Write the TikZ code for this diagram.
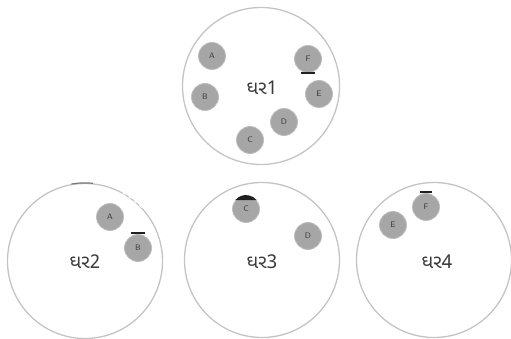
\documentclass[tikz,border=0pt]{standalone}
\usepackage{fontspec}
\setmainfont{DejaVu Sans}
\newfontfamily\gujfont[Script=Gujarati]{Noto Sans Gujarati UI}
\definecolor{ringgray}{HTML}{C4C4C4}
\definecolor{dotgray}{HTML}{A6A6A6}
\definecolor{dotedge}{HTML}{BDBDBD}
\definecolor{txtgray}{HTML}{3A3A3A}
\definecolor{capdark}{HTML}{202020}
\begin{document}
\begin{tikzpicture}[x=1pt,y=-1pt,
  house/.style={circle,draw=ringgray,line width=1.3pt,fill=white,minimum size=#1,inner sep=0pt},
  member/.style={circle,fill=dotgray,draw=dotedge,line width=0.8pt,minimum size=27pt,inner sep=0pt,
     font=\fontsize{8}{9}\selectfont\sffamily,text=txtgray},
  hlabel/.style={font=\gujfont\fontsize{19}{21}\selectfont,text=txtgray},
  capmark/.style={draw=capdark,line width=1.6pt}]
\useasboundingbox (0,0) rectangle (511,339);
\node[house=157pt] (h1) at (261,86) {};
\node[house=155pt] (h2) at (85,261) {};
\node[house=155pt] (h3) at (262,260) {};
\node[house=155pt] (h4) at (434,260) {};
\node[hlabel] (l1) at (262,88) {ઘર1};
\node[hlabel] (l2) at (85,262) {ઘર2};
\node[hlabel] (l3) at (262,262) {ઘર3};
\node[hlabel] (l4) at (437,262) {ઘર4};
\node[member] (a1) at (212,56) {A};
\node[member] (b1) at (205,97) {B};
\node[member] (f1) at (308,59) {F};
\node[member] (e1) at (319,94) {E};
\node[member] (d1) at (284,122) {D};
\node[member] (c1) at (250,140) {C};
\node[member] (a2) at (110,217) {A};
\node[member] (b2) at (138,248) {B};
\node[member] (c3) at (246,209) {C};
\node[member] (d3) at (308,236) {D};
\node[member] (f4) at (426,207) {F};
\node[member] (e4) at (393,225) {E};
% dark marks
\draw[capmark] ([xshift=-7pt]f1.south) -- ([xshift=7pt]f1.south);
\draw[capmark] ([xshift=-7pt,yshift=1pt]b2.north) -- ([xshift=7pt,yshift=1pt]b2.north);
\draw[capmark] ([xshift=-6pt,yshift=1pt]f4.north) -- ([xshift=6pt,yshift=1pt]f4.north);
\fill[capdark] (c3.140) arc[start angle=140,end angle=40,radius=13.9pt] -- cycle;
\draw[draw=capdark!60,line width=1.2pt] (h2.100) arc[start angle=100,end angle=84,radius=77.5pt];
\draw[draw=white,line width=1.6pt,dash pattern=on 3pt off 4pt] (h2.61) arc[start angle=61,end angle=41,radius=77.5pt];
\end{tikzpicture}
\end{document}
